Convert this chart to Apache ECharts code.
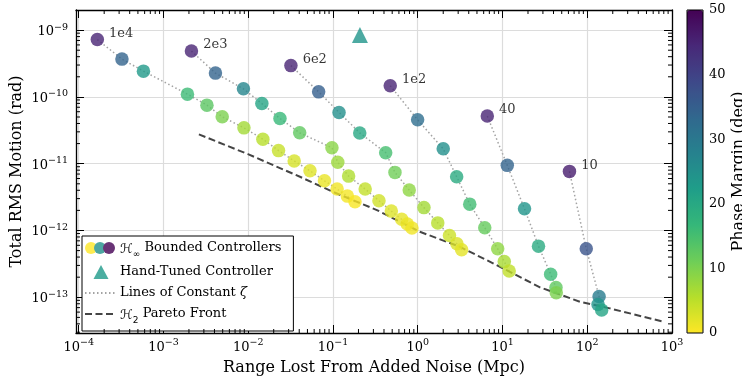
<!DOCTYPE html>
<html><head><meta charset="utf-8">
<script src="https://cdn.jsdelivr.net/npm/echarts@6/dist/echarts.min.js"></script>
<style>html,body{margin:0;padding:0;background:#fff}#c{width:742px;height:376px}</style>
</head><body><div id="c"></div>
<script>
// ---- data ----
const zetaLabels = ['1e4', '2e3', '6e2', '1e2', '40', '10'];

const range_1e4 = [1.66e-4, 3.24e-4, 5.81e-4, 1.92e-3, 3.26e-3, 4.94e-3, 8.91e-3, 0.0149, 0.0228, 0.0349, 0.0536, 0.0794, 0.112, 0.148, 0.182];
const rms_1e4   = [7.21e-10, 3.68e-10, 2.43e-10, 1.10e-10, 7.53e-11, 5.04e-11, 3.44e-11, 2.33e-11, 1.57e-11, 1.10e-11, 7.83e-12, 5.55e-12, 4.17e-12, 3.27e-12, 2.69e-12];
const pm_1e4    = [45, 34, 23, 16, 13, 10, 7, 5.3, 4.2, 3, 2.3, 1.5, 1, 0.7, 0.5];

const range_2e3 = [2.14e-3, 4.11e-3, 8.79e-3, 0.0145, 0.0237, 0.0405, 0.0973, 0.114, 0.153, 0.240, 0.349, 0.488, 0.647, 0.753, 0.855];
const rms_2e3   = [4.85e-10, 2.27e-10, 1.32e-10, 7.94e-11, 4.76e-11, 2.90e-11, 1.73e-11, 1.05e-11, 6.52e-12, 4.17e-12, 2.79e-12, 1.95e-12, 1.47e-12, 1.25e-12, 1.09e-12];
const pm_2e3    = [45, 34, 27, 21, 16.5, 12.5, 9, 7.5, 6, 4.5, 3.5, 2.5, 1.8, 1.3, 1];

const range_6e2 = [0.0319, 0.0678, 0.118, 0.207, 0.419, 0.539, 0.794, 1.185, 1.724, 2.37, 2.90, 3.30];
const rms_6e2   = [2.94e-10, 1.19e-10, 5.86e-11, 2.89e-11, 1.46e-11, 7.41e-12, 4.03e-12, 2.20e-12, 1.30e-12, 8.39e-13, 6.32e-13, 5.14e-13];
const pm_6e2    = [45, 35, 25, 20, 15, 11, 8.5, 7, 5.3, 3.8, 2.8, 2];

const range_1e2 = [0.474, 0.998, 2.00, 2.88, 4.11, 6.18, 8.78, 10.5, 12.0];
const rms_1e2   = [1.47e-10, 4.54e-11, 1.67e-11, 6.37e-12, 2.48e-12, 1.10e-12, 5.32e-13, 3.42e-13, 2.47e-13];
const pm_1e2    = [45, 32, 25, 19.5, 15.5, 12, 8.5, 6.5, 4.7];

const range_40 = [6.62, 11.4, 18.2, 26.6, 37.0, 42.8, 43.1];
const rms_40   = [5.16e-11, 9.44e-12, 2.11e-12, 5.83e-13, 2.22e-13, 1.40e-13, 1.17e-13];
const pm_40    = [45, 34, 24, 19.5, 16, 12.5, 10];

const range_10 = [61.7, 97.4, 138, 134, 148];
const rms_10   = [7.67e-12, 5.32e-13, 1.03e-13, 7.78e-14, 6.43e-14];
const pm_10    = [46, 37, 29, 24, 21];

const handRange = [0.208];
const handRms   = [8.42e-10];
const handPm    = [24];

const paretoRange = [2.62e-3, 9.93e-3, 0.0408, 0.1, 0.330, 1.06, 3.15, 9.34, 27.7, 82.1, 185, 762];
const paretoRms   = [2.75e-11, 1.39e-11, 6.37e-12, 3.79e-12, 2.02e-12, 9.57e-13, 5.70e-13, 2.86e-13, 1.41e-13, 8.57e-14, 6.82e-14, 4.36e-14];

const cbarTicks = [0, 10, 20, 30, 40, 50];
const pmRange = [0, 50];
const xExtent = [9.3e-5, 1e3];
const yExtent = [2.92e-14, 2.0e-9];

// ---- styling ----
const FONT = 'DejaVu Serif';
const viridisRev = ['#fde725','#b5de2b','#6ece58','#35b779','#1f9e89','#26828e','#31688e','#3e4989','#482878','#440154'];

const groups = [
  {label: zetaLabels[0], range: range_1e4, rms: rms_1e4, pm: pm_1e4},
  {label: zetaLabels[1], range: range_2e3, rms: rms_2e3, pm: pm_2e3},
  {label: zetaLabels[2], range: range_6e2, rms: rms_6e2, pm: pm_6e2},
  {label: zetaLabels[3], range: range_1e2, rms: rms_1e2, pm: pm_1e2},
  {label: zetaLabels[4], range: range_40, rms: rms_40, pm: pm_40},
  {label: zetaLabels[5], range: range_10, rms: rms_10, pm: pm_10}
];

function powLabel(v) {
  const e = Math.log10(v), r = Math.round(e);
  if (Math.abs(e - r) > 1e-6) return '';
  const s = r < 0 ? '\u2212' + (-r) : String(r);
  return '{b|10}{s|' + s + '}';
}
const powRich = {
  b: {fontFamily: FONT, fontSize: 13, color: '#000', lineHeight: 16, verticalAlign: 'bottom'},
  s: {fontFamily: FONT, fontSize: 9.5, color: '#000', lineHeight: 10, verticalAlign: 'top'}
};

function minorVals(lo, hi) {
  const out = [];
  for (let e = Math.floor(Math.log10(lo)); e <= Math.ceil(Math.log10(hi)); e++) {
    for (let k = 2; k <= 9; k++) { const v = k * Math.pow(10, e); if (v > lo * 1.001 && v < hi * 0.999) out.push(v); }
  }
  return out;
}

function minorTickSeries(vals, dir) {
  return {
    type: 'custom', silent: true, z: 6, clip: false,
    data: vals.map(v => dir === 'x' ? [v, 1e-11] : [1, v]),
    renderItem: function (params, api) {
      const cs = params.coordSys;
      const p = api.coord([api.value(0), api.value(1)]);
      const L = 4, st = {stroke: '#000', lineWidth: 1};
      if (dir === 'x') {
        const x = p[0];
        return {type: 'group', children: [
          {type: 'line', shape: {x1: x, y1: cs.y + cs.height, x2: x, y2: cs.y + cs.height - L}, style: st},
          {type: 'line', shape: {x1: x, y1: cs.y, x2: x, y2: cs.y + L}, style: st}
        ]};
      }
      const y = p[1];
      return {type: 'group', children: [
        {type: 'line', shape: {x1: cs.x, y1: y, x2: cs.x + L, y2: y}, style: st},
        {type: 'line', shape: {x1: cs.x + cs.width, y1: y, x2: cs.x + cs.width - L, y2: y}, style: st}
      ]};
    }
  };
}

const series = [];
groups.forEach(g => {
  series.push({
    name: 'zeta', type: 'line', symbol: 'none', z: 2, silent: true,
    data: g.range.map((x, i) => [x, g.rms[i]]),
    lineStyle: {color: '#a3a3a3', width: 1.5, type: [1.5, 2.5]}
  });
});
series.push({
  name: 'h2', type: 'line', symbol: 'none', z: 3, silent: true,
  data: paretoRange.map((x, i) => [x, paretoRms[i]]),
  lineStyle: {color: '#454545', width: 2, type: [7, 3.5]}
});
const scatterIdx = [];
groups.forEach(g => {
  scatterIdx.push(series.length);
  series.push({
    name: 'hinf', type: 'scatter', symbol: 'circle', symbolSize: 13.5, z: 4,
    data: g.range.map((x, i) => [x, g.rms[i], g.pm[i]]),
    label: {
      show: true, position: 'right', distance: 5, offset: [0, -6],
      formatter: p => p.dataIndex === 0 ? g.label : '',
      fontFamily: FONT, fontSize: 13, color: '#000', textBorderWidth: 0
    }
  });
});
scatterIdx.push(series.length);
series.push({
  name: 'hand', type: 'scatter', symbol: 'triangle', symbolSize: 16, z: 4,
  data: handRange.map((x, i) => [x, handRms[i], handPm[i]])
});
series.push(minorTickSeries(minorVals(xExtent[0], xExtent[1]), 'x'));
series.push(minorTickSeries(minorVals(yExtent[0], yExtent[1]), 'y'));

const axisLine = {show: true, onZero: false, lineStyle: {color: '#000', width: 1.3}};
const majorTick = {show: true, inside: true, length: 8, lineStyle: {color: '#000', width: 1}};
const gridLine = {show: true, lineStyle: {color: '#dcdcdc', width: 1.2}};

const svgIcon = body => 'image://data:image/svg+xml;charset=utf-8,' + encodeURIComponent(
  '<svg xmlns="http://www.w3.org/2000/svg" width="30" height="14" viewBox="0 0 30 14">' + body + '</svg>');
const cIcon = svgIcon('<circle cx="6" cy="7" r="6" fill="#fde725"/><circle cx="15" cy="7" r="6" fill="#21918c"/><circle cx="24" cy="7" r="6" fill="#440154"/>');
const tIcon = svgIcon('<polygon points="16,0 23.5,14 8.5,14" fill="#1f9a8a"/>');

const legendText = {
  hinf: '{h|\u210B}{sub|\u221E} Bounded Controllers',
  hand: 'Hand-Tuned Controller',
  zeta: 'Lines of Constant {i|\u03B6}',
  h2: '{h|\u210B}{sub|2} Pareto Front'
};

const nameStyle = {fontFamily: FONT, fontSize: 16, color: '#000'};

const option = {
  animation: false,
  backgroundColor: '#fff',
  grid: [
    {left: 76, top: 10, width: 596, height: 323, containLabel: false, outerBoundsMode: 'none'},
    {left: 687, top: 10, width: 16, height: 323, containLabel: false, outerBoundsMode: 'none', show: true, z: 10,
     backgroundColor: 'transparent', borderColor: '#000', borderWidth: 1}
  ],
  xAxis: [
    {type: 'log', logBase: 10, gridIndex: 0, position: 'bottom', min: xExtent[0], max: xExtent[1],
     axisLine: axisLine, axisTick: majorTick, splitLine: gridLine,
     axisLabel: {interval: 0, margin: 5, formatter: powLabel, rich: powRich},
     name: 'Range Lost From Added Noise (Mpc)', nameLocation: 'middle', nameGap: 27, nameMoveOverlap: false,
     nameTextStyle: nameStyle},
    {type: 'log', logBase: 10, gridIndex: 0, position: 'top', min: xExtent[0], max: xExtent[1],
     axisLine: axisLine, axisTick: majorTick, splitLine: {show: false}, axisLabel: {show: false}},
    {type: 'value', gridIndex: 1, show: false, min: 0, max: 1}
  ],
  yAxis: [
    {type: 'log', logBase: 10, gridIndex: 0, position: 'left', min: yExtent[0], max: yExtent[1],
     axisLine: axisLine, axisTick: majorTick, splitLine: gridLine,
     axisLabel: {interval: 0, margin: 8, formatter: powLabel, rich: powRich},
     name: 'Total RMS Motion (rad)', nameLocation: 'middle', nameGap: 51, nameRotate: 90, nameMoveOverlap: false,
     nameTextStyle: nameStyle},
    {type: 'log', logBase: 10, gridIndex: 0, position: 'right', min: yExtent[0], max: yExtent[1],
     axisLine: axisLine, axisTick: majorTick, splitLine: {show: false}, axisLabel: {show: false}},
    {type: 'value', gridIndex: 1, position: 'right', min: pmRange[0], max: pmRange[1], interval: 10,
     axisLine: {show: false}, axisTick: {show: false}, splitLine: {show: false},
     axisLabel: {margin: 6, fontFamily: FONT, fontSize: 13, color: '#000',
                 formatter: v => cbarTicks.indexOf(v) >= 0 ? String(v) : ''},
     name: 'Phase Margin (deg)', nameLocation: 'middle', nameGap: 28, nameRotate: 90, nameMoveOverlap: false,
     nameTextStyle: nameStyle}
  ],
  visualMap: {
    type: 'continuous', min: pmRange[0], max: pmRange[1], dimension: 2, seriesIndex: scatterIdx,
    inRange: {color: viridisRev}, calculable: false, orient: 'vertical',
    left: 687, top: 10, itemWidth: 16, itemHeight: 323, padding: 0, text: null, showLabel: false,
    hoverLink: false
  },
  legend: {
    orient: 'vertical', left: 82, top: 236, selectedMode: false,
    padding: [4, 12, 6, 2], itemGap: 5, itemWidth: 30, itemHeight: 14,
    backgroundColor: '#fff', borderColor: '#000', borderWidth: 1, borderRadius: 0,
    formatter: n => legendText[n],
    textStyle: {fontFamily: FONT, fontSize: 13, color: '#000', lineHeight: 16,
      rich: {
        h: {fontFamily: 'DejaVu Sans', fontSize: 13, color: '#000', lineHeight: 16, verticalAlign: 'bottom'},
        sub: {fontFamily: 'DejaVu Sans', fontSize: 9, color: '#000', lineHeight: 16, verticalAlign: 'bottom', padding: [0, 0, -3, 0]},
        i: {fontFamily: FONT, fontStyle: 'italic', fontSize: 13, color: '#000', lineHeight: 16}
      }},
    data: [
      {name: 'hinf', icon: cIcon},
      {name: 'hand', icon: tIcon},
      {name: 'zeta', itemStyle: {opacity: 0}},
      {name: 'h2', itemStyle: {opacity: 0}}
    ]
  },
  series: series
};

const chart = echarts.init(document.getElementById('c'), null, {renderer: 'canvas'});
chart.setOption(option);
</script>
</body></html>
